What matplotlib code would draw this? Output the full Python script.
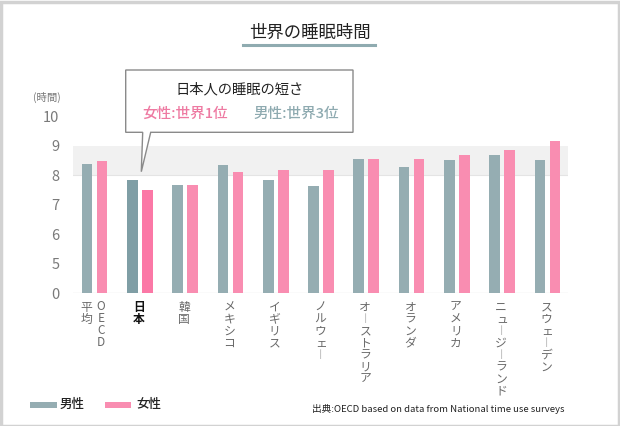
import numpy as np
import matplotlib
matplotlib.use("Agg")
import matplotlib.pyplot as plt
from matplotlib import transforms
from matplotlib.patches import Rectangle, Polygon
from matplotlib.lines import Line2D

plt.rcParams['font.family'] = ['Noto Sans CJK JP', 'DejaVu Sans']

# ---- data ----
countries = ["平均OECD", "日本", "韓国", "メキシコ", "イギリス", "ノルウェー",
             "オーストラリア", "オランダ", "アメリカ", "ニュージーランド", "スウェーデン"]
male = [8.38, 7.86, 7.68, 8.36, 7.84, 7.65, 8.57, 8.27, 8.53, 8.69, 8.52]
female = [8.49, 7.50, 7.68, 8.13, 8.20, 8.19, 8.57, 8.55, 8.70, 8.88, 9.17]
yticks = [0, 5, 6, 7, 8, 9, 10]
highlight = "日本"

title = "世界の睡眠時間"
callout_title = "日本人の睡眠の短さ"
callout_f = "女性:世界1位"
callout_m = "男性:世界3位"
source = "出典:OECD based on data from National time use surveys"

W, H = 620, 426
fig = plt.figure(figsize=(W / 100, H / 100), dpi=100)

def fx(px):
    return px / W

def fy(py):
    return 1 - py / H

ax = fig.add_axes([fx(73.3), fy(293.3), (567.7 - 73.3) / W, (293.3 - 116.5) / H])

def fwd(v):
    v = np.asarray(v, float)
    return np.where(v <= 5, v / 5.0, v - 4.0)

def inv(p):
    p = np.asarray(p, float)
    return np.where(p <= 1, p * 5.0, p + 4.0)

ax.set_yscale('function', functions=(fwd, inv))
ax.set_ylim(0, 10)
ax.set_xlim(-0.468, 10.446)

c_m, c_f = '#95adb2', '#f98db1'
c_m_hi, c_f_hi = '#7f9ea5', '#fb78a6'

x = np.arange(len(countries))
off, bw = 0.166, 0.236
mcols = [c_m_hi if c == highlight else c_m for c in countries]
fcols = [c_f_hi if c == highlight else c_f for c in countries]
ax.bar(x - off, male, width=bw, color=mcols, zorder=3)
ax.bar(x + off, female, width=bw, color=fcols, zorder=3)

ax.axhspan(8, 9, color='#f1f1f1', zorder=0, lw=0)
ax.axhline(8, color='#e4e4e4', lw=0.8, zorder=1)
ax.axhline(0, color='#e8e8e8', lw=1.0, zorder=1)

for s in ax.spines.values():
    s.set_visible(False)
ax.set_yticks(yticks)
ax.set_yticklabels([str(t) for t in yticks], fontsize=10.5, color='#7a7a7a')
ax.tick_params(axis='y', length=0, pad=10)
ax.set_xticks([])
ax.yaxis.set_minor_locator(matplotlib.ticker.NullLocator())

fig.text(fx(47), fy(97), "(時間)", fontsize=7.5, color='#777777', ha='center', va='center')

# vertical category labels
blend = transforms.blended_transform_factory(ax.transData, fig.transFigure)
small = set("ァィゥェォャュョッ")
pitch = 12.0
top = 301.0

def vcol(xi, dx, text, color, weight):
    for k, ch in enumerate(text):
        ddx = dx
        size = 8.5
        if ch == 'ー':
            ch = '｜'
            size = 7.0
        if ch in small:
            ddx = dx + 1.0
        tr = transforms.offset_copy(blend, fig=fig, x=ddx, y=0, units='dots')
        fig.text(xi, fy(top + k * pitch + pitch / 2), ch, transform=tr, fontsize=size,
                 color=color, ha='center', va='center', fontweight=weight)

for i, c in enumerate(countries):
    if c == "平均OECD":
        vcol(i, -8.5, "平均", '#6a6a6a', 'normal')
        vcol(i, 6.5, "OECD", '#6a6a6a', 'normal')
    elif c == highlight:
        vcol(i, -1, c, '#111111', 'bold')
    else:
        vcol(i, -1, c, '#6a6a6a', 'normal')

# title + underline
fig.text(fx(310), fy(33), title, fontsize=12.5, ha='center', va='center', color='#222222')
fig.add_artist(Line2D([fx(243), fx(375)], [fy(45), fy(45)], color='#8fabb0', lw=2.2,
                      transform=fig.transFigure))

# callout
bx0, bx1, by0, by1 = 125.7, 353, 70, 132.3
pts = [(bx0, by0), (bx1, by0), (bx1, by1), (150.7, by1), (141.3, 171.7),
       (142.7, by1), (bx0, by1)]
fig.add_artist(Polygon([(fx(a), fy(b)) for a, b in pts], closed=True, facecolor='white',
                       edgecolor='#8a8a8a', lw=1.0, transform=fig.transFigure, zorder=5))
fig.text(fx(239.5), fy(89), callout_title, fontsize=10.3, ha='center', va='center',
         color='#222222', zorder=6)
fig.text(fx(185.5), fy(114), callout_f, fontsize=10.5, ha='center', va='center',
         color='#ee7aa2', zorder=6, fontweight='medium')
fig.text(fx(296), fy(114), callout_m, fontsize=10.5, ha='center', va='center',
         color='#8eaab0', zorder=6, fontweight='medium')

# legend
fig.add_artist(Rectangle((fx(30), fy(407.5)), fx(27), 6 / H, facecolor=c_m, edgecolor='none',
                         transform=fig.transFigure))
fig.text(fx(60), fy(404.5), "男性", fontsize=9, ha='left', va='center', color='#222222',
         fontweight='medium')
fig.add_artist(Rectangle((fx(105), fy(407.5)), fx(26), 6 / H, facecolor=c_f, edgecolor='none',
                         transform=fig.transFigure))
fig.text(fx(136), fy(404.5), "女性", fontsize=9, ha='left', va='center', color='#222222',
         fontweight='medium')

fig.text(fx(565), fy(409), source, fontsize=6.9, ha='right', va='center', color='#222222')

# frame
fig.add_artist(Rectangle((0.5 / W, 0.5 / H), 1 - 2 / W, 1 - 2 / H, facecolor='none',
                         edgecolor='#d2d2d2', lw=2.5, transform=fig.transFigure))

fig.savefig("out.png", dpi=100)
